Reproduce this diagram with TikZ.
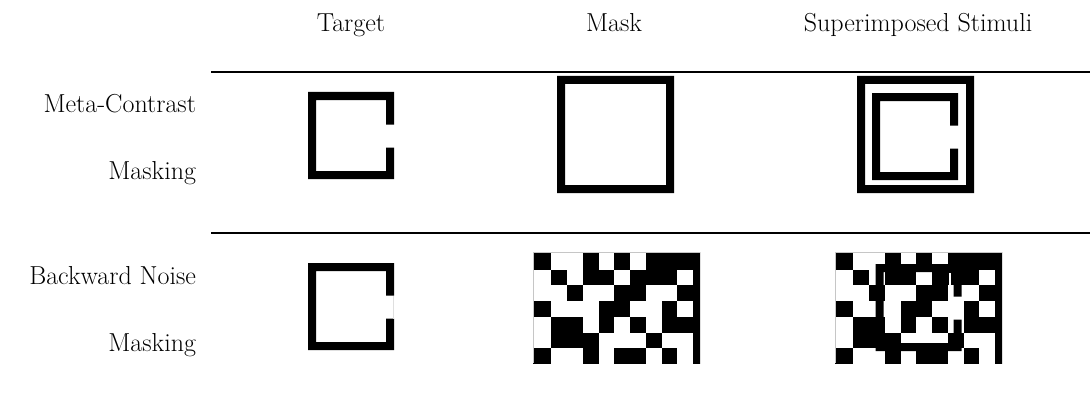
\documentclass[tikz,border=0pt]{standalone}
\begin{document}
\begin{tikzpicture}[x=1pt,y=-1pt,
  lbl/.style={font=\fontsize{26}{30}\selectfont, inner sep=0pt, outer sep=0pt},
  rowlbl/.style={lbl, anchor=base east},
  head/.style={lbl, anchor=base},
  rule/.style={line width=2.4pt},
  % open square "C" shaped target, 86 x 87, gap in the right side
  targetC/.pic={
    \fill (0,0) -- (86,0) -- (86,32.5) -- (78,32.5) -- (78,8) -- (8,8) -- (8,79)
          -- (78,79) -- (78,55.5) -- (86,55.5) -- (86,87) -- (0,87) -- cycle;
  },
  % closed square frame used as the meta-contrast mask
  frame/.pic={
    \fill[even odd rule] (0,0) rectangle (117,117) (8,8) rectangle (109,109);
  },
  % block noise mask, 167 x 111
  noise/.pic={
    \begin{scope}
      \clip (0,0) rectangle (167,111);
      \foreach \r/\cols in {0/{0,3,5,7,8,9,10}, 1/{1,3,4,6,7,8,10},
                            2/{2,5,6,9,10}, 3/{0,4,5,8,10},
                            4/{1,2,4,6,8,9,10}, 5/{1,2,3,7,10},
                            6/{0,3,5,6,8,10}}{
        \foreach \c in \cols {
          \pgfmathsetmacro{\xa}{\c==0 ? -6 : 2.5+15.75*\c}
          \pgfmathsetmacro{\ya}{\r==0 ? -6 : 1.9+15.75*\r}
          \fill (\xa,\ya) rectangle ({18.25+15.75*\c},{17.65+15.75*\r});
        }
      }
    \end{scope}
    \draw[gray!45, line width=0.6pt] (0,111) -- (0,0) -- (167,0);
  },
]
\useasboundingbox (0,0) rectangle (1090,412);

% column headings
\node[head] (hTarget) at (351,32) {Target};
\node[head] (hMask)   at (614,32) {Mask};
\node[head] (hSuper)  at (918,32) {Superimposed Stimuli};

% row labels
\node[rowlbl] (rowMetaA)  at (196,112) {Meta-Contrast};
\node[rowlbl] (rowMetaB)  at (196,179) {Masking};
\node[rowlbl] (rowNoiseA) at (196,284) {Backward Noise};
\node[rowlbl] (rowNoiseB) at (196,351) {Masking};

% horizontal rules
\coordinate (ruleAl) at (211,72);  \coordinate (ruleAr) at (1090,72);
\coordinate (ruleBl) at (211,233); \coordinate (ruleBr) at (1090,233);
\draw[rule] (ruleAl) -- (ruleAr);
\draw[rule] (ruleBl) -- (ruleBr);

% meta-contrast row
\pic (tgtA) at (308,92) {targetC};
\pic (mskA) at (557,76) {frame};
\pic (supAf) at (857,76) {frame};
\pic (supAc) at (872,93) {targetC};

% backward noise row
\pic (tgtB) at (308,263) {targetC};
\draw[gray!25, line width=0.6pt] (393.7,296) -- (393.7,319);
\pic (mskB) at (533,252) {noise};
\pic (supBn) at (835,252) {noise};
\pic (supBc) at (875.5,264) {targetC};
\fill[white] (948.5,273) rectangle (950.7,331);
\end{tikzpicture}
\end{document}
